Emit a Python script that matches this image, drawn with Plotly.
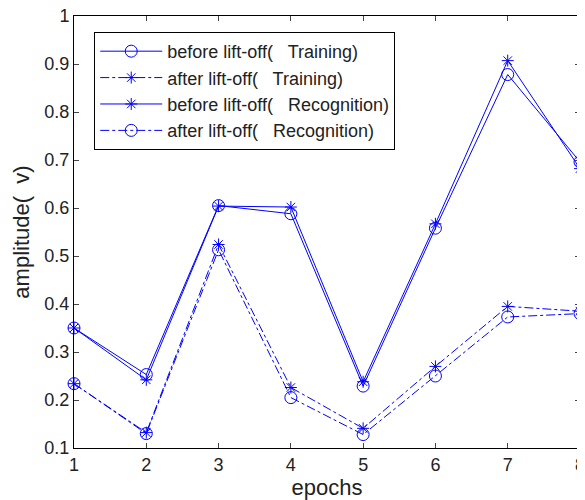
import plotly.graph_objects as go

epochs = [1, 2, 3, 4, 5, 6, 7, 8]
before_training = [0.350, 0.253, 0.605, 0.588, 0.229, 0.558, 0.878, 0.696]
after_training = [0.234, 0.132, 0.524, 0.226, 0.141, 0.270, 0.395, 0.385]
before_recognition = [0.350, 0.242, 0.604, 0.602, 0.238, 0.567, 0.907, 0.682]
after_recognition = [0.234, 0.130, 0.513, 0.205, 0.128, 0.250, 0.373, 0.380]

names = ["before lift-off(   Training)", "after lift-off(   Training)",
         "before lift-off(   Recognition)", "after lift-off(   Recognition)"]
series = [before_training, after_training, before_recognition, after_recognition]
symbols = ["circle-open", "asterisk-open", "asterisk-open", "circle-open"]
sizes = [12, 10, 10, 12]
dashes = ["solid", "dashdot", "solid", "dashdot"]

fig = go.Figure()
for n, s, sym, sz, d in zip(names, series, symbols, sizes, dashes):
    fig.add_trace(go.Scatter(
        x=epochs, y=s, name=n, mode="lines+markers",
        line=dict(color="#0000ff", width=1, dash=d),
        marker=dict(symbol=sym, size=sz, color="#0000ff", line=dict(color="#0000ff", width=1)),
        cliponaxis=False,
    ))

# page body has an 8px margin, so the figure is sized 8px smaller
fig.update_layout(
    width=577, height=492,
    margin=dict(l=66, r=5, t=8, b=52, autoexpand=False),
    plot_bgcolor="white", paper_bgcolor="white",
    font=dict(family="Liberation Sans, Arial", size=18, color="#222"),
    legend=dict(x=0.04, y=0.963, xanchor="left", yanchor="top",
                bordercolor="black", borderwidth=1, bgcolor="white",
                font=dict(size=18), tracegroupgap=0, itemwidth=62),
    showlegend=True,
)
fig.update_xaxes(range=[1, 8], tickvals=epochs, ticks="inside", ticklen=5,
                 showline=True, linecolor="black", linewidth=1, mirror="ticks",
                 showgrid=False, zeroline=False, automargin=False,
                 ticklabeloverflow="allow",
                 title=dict(text="epochs", standoff=4))
fig.update_yaxes(range=[0.1, 1], dtick=0.1, tickformat=".1~f", ticks="inside", ticklen=5,
                 showline=True, linecolor="black", linewidth=1, mirror="ticks",
                 showgrid=False, zeroline=False, automargin=False,
                 ticklabeloverflow="allow",
                 title=dict(text="amplitude(  v)", standoff=8))

fig.write_html("out.html")
